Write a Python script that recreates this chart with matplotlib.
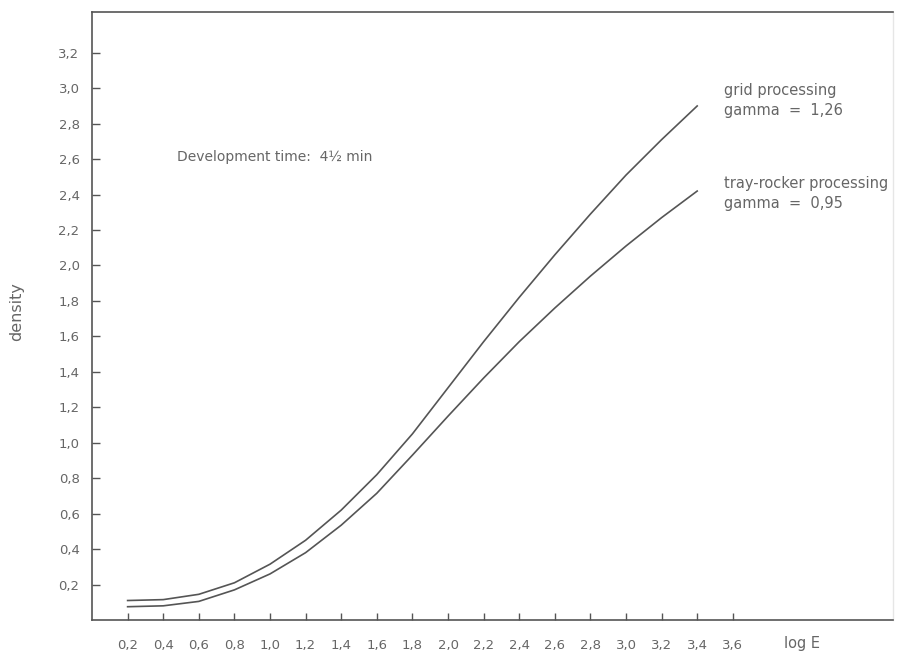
import numpy as np
import matplotlib.pyplot as plt

# characteristic curves (log E -> density)
log_e = [0.2, 0.4, 0.6, 0.8, 1.0, 1.2, 1.4, 1.6, 1.8, 2.0, 2.2, 2.4, 2.6, 2.8, 3.0, 3.2, 3.4]
grid_density = [0.11, 0.115, 0.145, 0.21, 0.315, 0.45, 0.62, 0.82, 1.05, 1.31,
                1.57, 1.82, 2.06, 2.29, 2.51, 2.71, 2.90]
tray_density = [0.075, 0.08, 0.105, 0.17, 0.26, 0.38, 0.535, 0.715, 0.93, 1.15,
                1.365, 1.57, 1.76, 1.94, 2.11, 2.27, 2.42]

x_ticks = [0.2, 0.4, 0.6, 0.8, 1.0, 1.2, 1.4, 1.6, 1.8, 2.0, 2.2, 2.4, 2.6, 2.8, 3.0, 3.2, 3.4, 3.6]
y_ticks = [0.2, 0.4, 0.6, 0.8, 1.0, 1.2, 1.4, 1.6, 1.8, 2.0, 2.2, 2.4, 2.6, 2.8, 3.0, 3.2]

line_col = "#555555"
text_col = "#666666"

plt.rcParams["font.family"] = ["DejaVu Sans"]

fig = plt.figure(figsize=(9.04, 6.57), dpi=100)
ax = fig.add_axes([0.1018, 0.0563, 0.886, 0.9254])

ax.plot(log_e, grid_density, color=line_col, lw=1.2, solid_joinstyle="round")
ax.plot(log_e, tray_density, color=line_col, lw=1.2, solid_joinstyle="round")

ax.set_xlim(0.0, 4.5)
ax.set_ylim(0.0, 3.43)

ax.set_xticks(x_ticks)
ax.set_xticklabels([f"{v:.1f}".replace(".", ",") for v in x_ticks])
ax.set_yticks(y_ticks)
ax.set_yticklabels([f"{v:.1f}".replace(".", ",") for v in y_ticks])

ax.tick_params(axis="x", direction="in", length=5, width=1, color=line_col,
               labelcolor=text_col, labelsize=9.5, pad=14)
ax.tick_params(axis="y", direction="in", length=5.5, width=1, color=line_col,
               labelcolor=text_col, labelsize=9.5, pad=9)

for side in ["left", "bottom", "top"]:
    ax.spines[side].set_color(line_col)
    ax.spines[side].set_linewidth(1.2)
ax.spines["right"].set_color("#e6e6e6")
ax.spines["right"].set_linewidth(1)

ax.text(0.48, 2.61, "Development time:  4½ min", color=text_col, fontsize=10,
        va="center", ha="left")
ax.text(3.55, 2.99, "grid processing", color=text_col, fontsize=10.5, va="center")
ax.text(3.55, 2.876, "gamma  =  1,26", color=text_col, fontsize=10.5, va="center")
ax.text(3.55, 2.465, "tray-rocker processing", color=text_col, fontsize=10.5, va="center")
ax.text(3.55, 2.352, "gamma  =  0,95", color=text_col, fontsize=10.5, va="center")

ax.text(3.99, -0.13, "log E", color=text_col, fontsize=10.5, ha="center", va="center")
fig.text(17 / 904, 1 - 312 / 657, "density", color=text_col, fontsize=11.5,
         rotation=90, ha="center", va="center")

fig.savefig("out.png", dpi=100)
